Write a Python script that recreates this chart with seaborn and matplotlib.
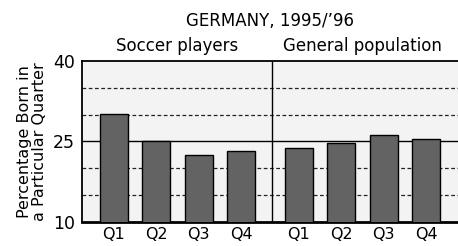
import numpy as np
import pandas as pd
import matplotlib
matplotlib.use('Agg')
import matplotlib.pyplot as plt
import seaborn as sns

# data
quarters = ['Q1', 'Q2', 'Q3', 'Q4']
soccer_pct = [30.2, 25.0, 22.5, 23.3]
general_pct = [23.7, 24.8, 26.2, 25.5]
groups = ['Soccer players', 'General population']
y_ticks = [10, 25, 40]

sns.set_style('white')
plt.rcParams['font.family'] = ['DejaVu Sans']
plt.rcParams['text.color'] = 'black'
plt.rcParams['axes.labelcolor'] = 'black'
plt.rcParams['xtick.color'] = 'black'
plt.rcParams['ytick.color'] = 'black'

# bar slots: two groups of four, with a wider gap between the groups
gap = 1.35
pos = list(np.arange(4)) + list(np.arange(4) + 4 + gap - 1)
df = pd.DataFrame({
    'pos': pos,
    'pct': soccer_pct + general_pct,
    'quarter': quarters * 2,
})

fig = plt.figure(figsize=(4.58, 2.46), dpi=100)
ax = fig.add_axes([0.179, 0.098, 0.821, 0.654])
ax.set_facecolor('#f3f3f3')

sns.barplot(data=df, x='pos', y='pct', native_scale=True, width=0.66,
            color='#636363', edgecolor='black', linewidth=1.0,
            saturation=1, ax=ax, zorder=3)

ax.set_ylim(10, 40)
ax.set_xlim(-0.75, 8.1)

# grid: solid at 25, dashed elsewhere
for v in [15, 20, 30, 35]:
    ax.axhline(v, color='#222222', lw=0.9, ls=(0, (3, 2)), zorder=1)
ax.axhline(25, color='black', lw=1.0, zorder=1)
divider = 3 + gap / 2 + 0.05
ax.axvline(divider, color='black', lw=1.0, zorder=1)

ax.set_yticks(y_ticks)
ax.set_yticklabels([str(t) for t in y_ticks], fontsize=12.5)
ax.set_xticks(pos)
ax.set_xticklabels(quarters * 2, fontsize=11.5)
ax.tick_params(axis='y', length=4, width=1, pad=1)
ax.tick_params(axis='x', length=0, pad=4)
ax.set_xlabel('')
ax.set_ylabel('Percentage Born in\na Particular Quarter', fontsize=11.5,
              linespacing=1.0, labelpad=4)

for side in ['top', 'left', 'bottom']:
    ax.spines[side].set_color('black')
    ax.spines[side].set_linewidth(1.3)
ax.spines['bottom'].set_linewidth(2)
ax.spines['right'].set_visible(False)

# titles
fig.text(0.59, 0.915, "GERMANY, 1995/\u201996", ha='center', va='center', fontsize=12)
left_c = (1.5 + 0.75) / 8.85
right_c = (4 + gap - 1 + 1.5 + 0.75) / 8.85
fig.text(0.179 + 0.821 * left_c, 0.815, groups[0], ha='center', va='center', fontsize=12)
fig.text(0.179 + 0.821 * right_c, 0.815, groups[1], ha='center', va='center', fontsize=12)

fig.savefig('out.png', dpi=100)
